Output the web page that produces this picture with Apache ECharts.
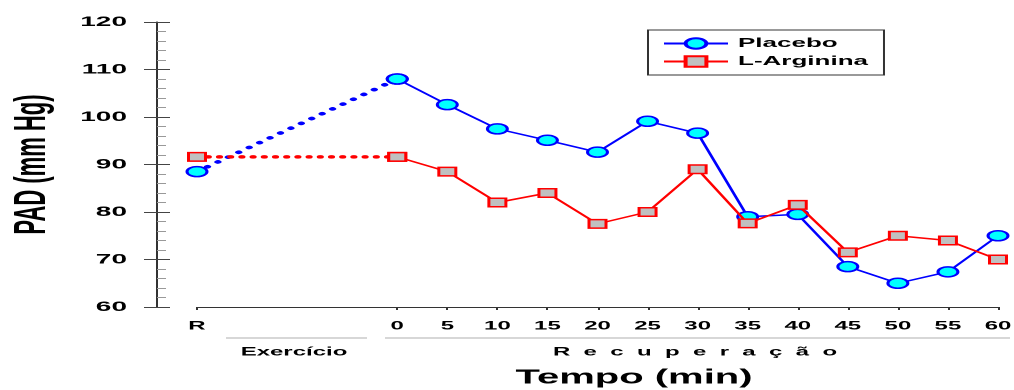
<!DOCTYPE html>
<html>
<head>
<meta charset="utf-8">
<script src="https://cdn.jsdelivr.net/npm/echarts@6/dist/echarts.min.js"></script>
<style>
  html, body { margin: 0; padding: 0; background: #fff; overflow: hidden; }
  #wrap { width: 507px; height: 390px; transform: scaleX(2); transform-origin: 0 0; }
</style>
</head>
<body>
<div id="wrap"></div>
<script>
// ---- data ----
const restX = -20;                       // position of the "R" (repouso) category
const timePoints = [0, 5, 10, 15, 20, 25, 30, 35, 40, 45, 50, 55, 60];
const xTickValues = [restX].concat(timePoints);
const xTickLabels = ['R', '0', '5', '10', '15', '20', '25', '30', '35', '40', '45', '50', '55', '60'];
const placeboRest = 88.5;
const argininaRest = 91.6;
const placebo  = [108, 102.6, 97.5, 95.1, 92.6, 99.1, 96.6, 79, 79.5, 68.5, 65, 67.4, 75];
const arginina = [91.6, 88.5, 82, 84, 77.5, 80, 89, 77.6, 81.5, 71.5, 75, 74, 70];
const yTicks = [60, 70, 80, 90, 100, 110, 120];

const FONT = '"Liberation Sans", Arial, sans-serif';

const placeboSolid = timePoints.map((t, i) => [t, placebo[i]]);
const argininaSolid = timePoints.map((t, i) => [t, arginina[i]]);
const placeboDot = [[restX, placeboRest], [timePoints[0], placebo[0]]];
const argininaDot = [[restX, argininaRest], [timePoints[0], arginina[0]]];

const circleStyle = { color: '#00ffff', borderColor: '#0000ff', borderWidth: 1.5 };
const squareStyle = { color: '#c0c0c0', borderColor: '#ff0000', borderWidth: 1.5 };

const chart = echarts.init(document.getElementById('wrap'), null, { renderer: 'canvas', devicePixelRatio: 2 });

const yBase = {
  type: 'value', min: yTicks[0], max: yTicks[yTicks.length - 1], interval: 10,
  position: 'left', offset: 20, splitLine: { show: false }
};

chart.setOption({
  animation: false,
  backgroundColor: '#ffffff',
  grid: { left: 98.5, right: 8, top: 22, bottom: 83, containLabel: false, outerBoundsMode: 'none' },
  legend: {
    data: ['Placebo', 'L-Arginina'],
    orient: 'vertical',
    left: 324, top: 30,
    padding: [7, 8, 7, 7],
    itemWidth: 32, itemHeight: 13, itemGap: 5,
    borderColor: '#333', borderWidth: 1,
    textStyle: { fontFamily: FONT, fontWeight: 'bold', fontSize: 13, color: '#000' }
  },
  xAxis: {
    type: 'value', min: restX, max: 60, interval: 5,
    splitLine: { show: false },
    axisLine: { onZero: false, lineStyle: { color: '#333', width: 1 } },
    axisTick: { show: true, length: 3, customValues: xTickValues, lineStyle: { color: '#333' } },
    axisLabel: {
      customValues: xTickValues,
      formatter: v => xTickLabels[xTickValues.indexOf(v)],
      margin: 13,
      fontFamily: FONT, fontWeight: 'bold', fontSize: 12, color: '#000'
    }
  },
  yAxis: [
    Object.assign({}, yBase, {
      name: 'PAD (mm Hg)', nameLocation: 'middle', nameGap: 51, nameRotate: 90,
      nameTextStyle: { fontFamily: FONT, fontWeight: 'bold', fontSize: 22, color: '#000' },
      axisLine: { show: true, onZero: false, lineStyle: { color: '#333', width: 1 } },
      axisTick: { show: true, inside: false, length: 6.5, lineStyle: { color: '#444' } },
      axisLabel: { margin: 15, fontFamily: FONT, fontWeight: 'bold', fontSize: 14, color: '#000' }
    }),
    Object.assign({}, yBase, {
      axisLine: { show: false, onZero: false },
      axisTick: { show: true, inside: true, length: 6.5, lineStyle: { color: '#444' } },
      minorTick: { show: true, splitNumber: 5, length: 4.5, lineStyle: { color: '#999' } },
      axisLabel: { show: false }
    })
  ],
  series: [
    {
      name: 'Placebo-exercicio', type: 'line', data: placeboDot, yAxisIndex: 0,
      symbol: 'circle', symbolSize: 10, itemStyle: circleStyle,
      lineStyle: { color: '#0000ff', width: 3.5, type: [0.1, 7], cap: 'round' }, z: 2
    },
    {
      name: 'L-Arginina-exercicio', type: 'line', data: argininaDot, yAxisIndex: 0,
      symbol: 'rect', symbolSize: 8.5, itemStyle: squareStyle,
      lineStyle: { color: '#ff0000', width: 3.5, type: [0.1, 5.5], cap: 'round' }, z: 2
    },
    {
      name: 'Placebo', type: 'line', data: placeboSolid, yAxisIndex: 0,
      symbol: 'circle', symbolSize: 10, itemStyle: circleStyle,
      lineStyle: { color: '#0000ff', width: 1.5 }, z: 3
    },
    {
      name: 'L-Arginina', type: 'line', data: argininaSolid, yAxisIndex: 0,
      symbol: 'rect', symbolSize: 8.5, itemStyle: squareStyle,
      lineStyle: { color: '#ff0000', width: 1.5 }, z: 4
    }
  ],
  graphic: [
    { type: 'line', shape: { x1: 113, y1: 338, x2: 183.5, y2: 338 }, style: { stroke: '#b0b0b0', lineWidth: 1 } },
    { type: 'line', shape: { x1: 192.5, y1: 338, x2: 505, y2: 338 }, style: { stroke: '#b0b0b0', lineWidth: 1 } },
    { type: 'text', x: 147, y: 352, style: { text: 'Exercício', font: 'bold 12px ' + FONT, fill: '#000', align: 'center', verticalAlign: 'middle' } },
    { type: 'text', x: 347.5, y: 352, style: { text: 'R  e  c  u  p  e  r  a  ç  ã  o', font: 'bold 12px ' + FONT, fill: '#000', align: 'center', verticalAlign: 'middle' } },
    { type: 'text', x: 317, y: 378, style: { text: 'Tempo (min)', font: 'bold 20px ' + FONT, fill: '#000', align: 'center', verticalAlign: 'middle' } }
  ]
});
</script>
</body>
</html>
